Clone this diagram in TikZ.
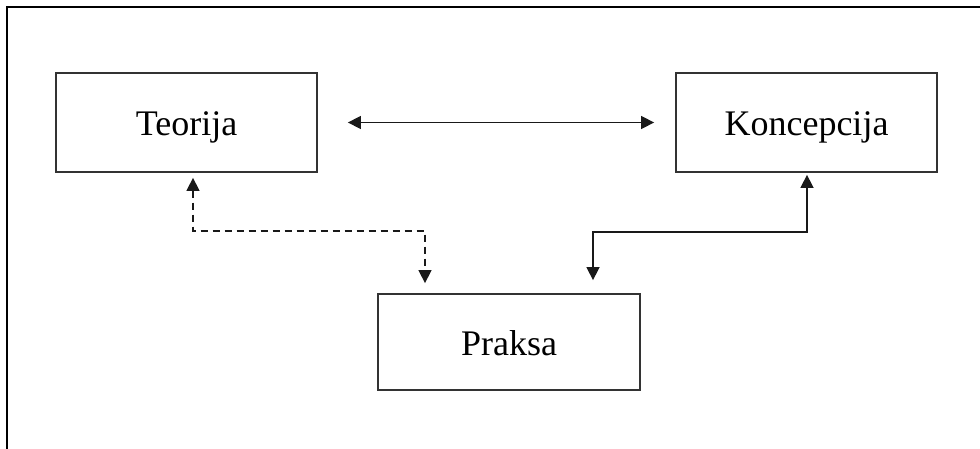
\documentclass[tikz,border=0pt]{standalone}
\usepackage{fontspec}
\setmainfont{Liberation Serif}
\usetikzlibrary{arrows.meta}
\begin{document}
\begin{tikzpicture}[x=1pt,y=-1pt,
  box/.style={draw=black!80,line width=1.8pt,minimum width=261pt,minimum height=99pt,inner sep=0pt,text height=28pt,text depth=2pt,font=\fontsize{36}{40}\selectfont},
  conn/.style={line width=1.5pt,black!90,{Triangle[length=13pt,width=13pt]}-{Triangle[length=13pt,width=13pt]}}]
\useasboundingbox (0,0) rectangle (980,449);
\draw[line width=2.4pt] (7,449) -- (7,7) -- (980,7);
\node[box] (t) at (186.5,122.5) {Teorija};
\node[box] (k) at (806.5,122.5) {Koncepcija};
\node[box,minimum width=262pt,minimum height=96pt] (p) at (509,342) {Praksa};
\draw[conn] ([xshift=30pt]t.east) -- ([xshift=-21pt]k.west);
\coordinate (d1) at (193,231);
\coordinate (d2) at (425,231);
\draw[conn,dash pattern=on 7pt off 5pt] ([xshift=6.5pt,yshift=-5pt]t.south) -- (d1) -- (d2) -- ([xshift=-84pt,yshift=10pt]p.north);
\coordinate (s1) at (807,232);
\coordinate (s2) at (593,232);
\draw[conn] ([xshift=0.5pt,yshift=-2pt]k.south) -- (s1) -- (s2) -- ([xshift=84pt,yshift=13pt]p.north);
\end{tikzpicture}
\end{document}
